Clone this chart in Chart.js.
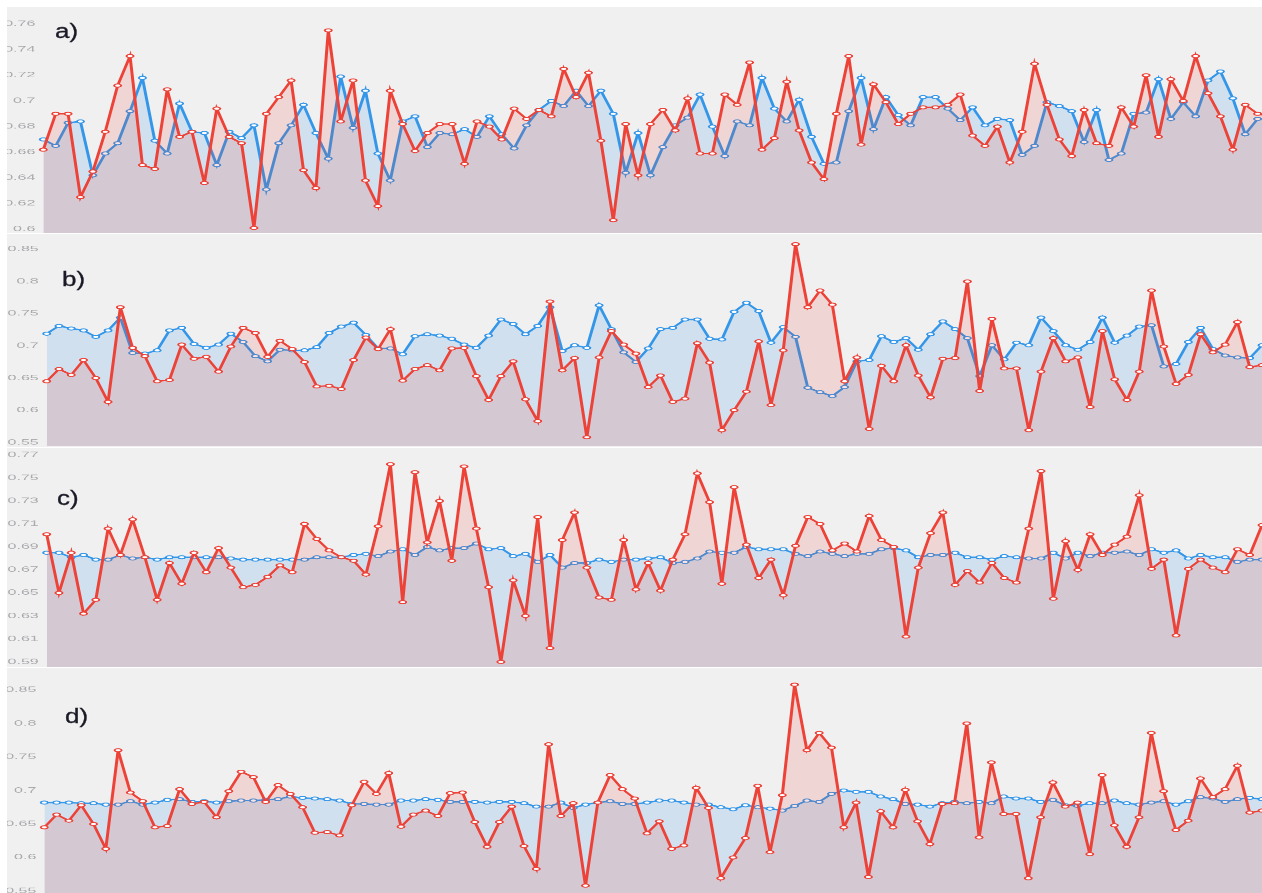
<!DOCTYPE html>
<html>
<head>
<meta charset="utf-8">
<script src="https://cdn.jsdelivr.net/npm/chart.js@4.4.1/dist/chart.umd.min.js"></script>
<style>
  html, body { margin: 0; padding: 0; background: #ffffff; width: 1262px; height: 893px; overflow: hidden; }
  .panel { position: absolute; left: 7px; width: 1255px; background: #f0f0f0; overflow: hidden; }
  .panel canvas { position: absolute; left: -7px; top: 0; transform-origin: 0 0; }
  .tag { position: absolute; font: 20px "Liberation Sans", Arial, sans-serif; color: #1a1a26; transform-origin: 0 0; white-space: nowrap; -webkit-text-stroke: 0.3px #1a1a26; }
</style>
</head>
<body>
<script>
// Sample index along the horizontal axis (shared by all four panels)
const steps = Array.from({ length: 100 }, (_, i) => i);

// Panel a
const redA = [0.662,0.690,0.690,0.625,0.645,0.676,0.712,0.735,0.650,0.647,
  0.709,0.672,0.676,0.636,0.694,0.672,0.667,0.601,0.690,0.703,
  0.716,0.646,0.632,0.755,0.684,0.716,0.638,0.618,0.708,0.682,
  0.661,0.675,0.682,0.682,0.651,0.684,0.680,0.670,0.694,0.686,
  0.693,0.688,0.725,0.703,0.722,0.669,0.607,0.682,0.642,0.682,
  0.693,0.677,0.702,0.659,0.659,0.705,0.697,0.730,0.662,0.671,
  0.715,0.677,0.652,0.639,0.690,0.735,0.666,0.713,0.699,0.682,
  0.690,0.695,0.695,0.697,0.705,0.673,0.665,0.680,0.652,0.676,
  0.729,0.697,0.670,0.657,0.693,0.667,0.665,0.695,0.680,0.720,
  0.672,0.717,0.700,0.735,0.706,0.688,0.662,0.697,0.690,0.688];
const blueA = [0.670,0.665,0.683,0.684,0.642,0.659,0.667,0.692,0.718,0.669,
  0.659,0.698,0.676,0.675,0.650,0.676,0.671,0.681,0.631,0.667,
  0.681,0.697,0.675,0.655,0.719,0.679,0.708,0.659,0.638,0.684,
  0.688,0.664,0.675,0.674,0.678,0.672,0.688,0.674,0.663,0.681,
  0.693,0.700,0.696,0.708,0.696,0.708,0.690,0.644,0.675,0.642,
  0.664,0.681,0.687,0.705,0.680,0.657,0.684,0.681,0.718,0.694,
  0.684,0.701,0.672,0.651,0.652,0.692,0.718,0.678,0.703,0.689,
  0.681,0.703,0.703,0.694,0.685,0.695,0.681,0.686,0.685,0.658,
  0.665,0.699,0.696,0.692,0.668,0.693,0.654,0.659,0.690,0.691,
  0.717,0.686,0.699,0.688,0.716,0.723,0.702,0.674,0.686,0.686];

// Red series shared by panels b and d
const redBD = [0.645,0.664,0.655,0.678,0.650,0.613,0.760,0.697,0.684,0.645,
  0.647,0.702,0.680,0.683,0.660,0.699,0.728,0.720,0.683,0.708,
  0.695,0.675,0.637,0.638,0.633,0.678,0.713,0.695,0.726,0.646,
  0.664,0.670,0.662,0.696,0.697,0.653,0.616,0.653,0.676,0.617,
  0.583,0.769,0.662,0.681,0.558,0.682,0.723,0.702,0.688,0.636,
  0.654,0.613,0.618,0.704,0.674,0.569,0.600,0.629,0.707,0.608,
  0.693,0.858,0.760,0.786,0.764,0.645,0.682,0.571,0.669,0.645,
  0.701,0.654,0.620,0.680,0.681,0.800,0.630,0.742,0.665,0.665,
  0.569,0.660,0.712,0.676,0.682,0.605,0.723,0.648,0.616,0.660,
  0.786,0.699,0.641,0.655,0.718,0.690,0.702,0.737,0.667,0.670];
const blueB = [0.719,0.731,0.727,0.724,0.714,0.724,0.744,0.689,0.688,0.693,
  0.724,0.728,0.703,0.697,0.702,0.719,0.706,0.684,0.676,0.694,
  0.693,0.693,0.698,0.720,0.730,0.736,0.717,0.696,0.696,0.687,
  0.715,0.718,0.716,0.711,0.702,0.697,0.716,0.741,0.734,0.718,
  0.731,0.760,0.692,0.701,0.697,0.763,0.726,0.690,0.675,0.696,
  0.726,0.728,0.741,0.741,0.711,0.710,0.753,0.767,0.754,0.705,
  0.729,0.714,0.635,0.628,0.622,0.636,0.676,0.678,0.715,0.706,
  0.712,0.694,0.718,0.738,0.726,0.712,0.653,0.701,0.679,0.705,
  0.701,0.744,0.723,0.701,0.694,0.706,0.744,0.705,0.716,0.730,
  0.732,0.668,0.672,0.706,0.728,0.695,0.685,0.682,0.681,0.701];

// Panel c
const redC = [0.701,0.650,0.685,0.632,0.644,0.706,0.683,0.714,0.681,0.644,
  0.676,0.658,0.685,0.668,0.689,0.672,0.655,0.657,0.664,0.674,
  0.668,0.710,0.697,0.687,0.681,0.678,0.666,0.708,0.762,0.642,
  0.755,0.694,0.730,0.678,0.760,0.706,0.655,0.590,0.661,0.630,
  0.716,0.602,0.696,0.720,0.672,0.646,0.644,0.696,0.653,0.676,
  0.652,0.679,0.701,0.754,0.729,0.658,0.742,0.692,0.663,0.679,
  0.648,0.691,0.716,0.710,0.687,0.693,0.686,0.717,0.696,0.690,
  0.612,0.672,0.702,0.720,0.657,0.669,0.659,0.676,0.663,0.659,
  0.706,0.756,0.645,0.695,0.670,0.701,0.683,0.692,0.699,0.735,
  0.671,0.679,0.613,0.671,0.679,0.672,0.668,0.688,0.683,0.709];
const blueC = [0.685,0.685,0.681,0.683,0.679,0.679,0.683,0.680,0.681,0.679,
  0.681,0.681,0.681,0.681,0.681,0.680,0.679,0.679,0.679,0.679,
  0.679,0.679,0.681,0.681,0.681,0.683,0.684,0.682,0.686,0.688,
  0.683,0.690,0.687,0.689,0.689,0.693,0.688,0.689,0.682,0.684,
  0.677,0.683,0.672,0.676,0.676,0.679,0.677,0.679,0.679,0.680,
  0.681,0.676,0.677,0.680,0.686,0.685,0.685,0.690,0.688,0.688,
  0.688,0.684,0.682,0.686,0.684,0.682,0.684,0.684,0.688,0.689,
  0.687,0.681,0.683,0.683,0.685,0.681,0.681,0.679,0.682,0.681,
  0.680,0.680,0.685,0.680,0.685,0.682,0.685,0.685,0.686,0.683,
  0.688,0.685,0.687,0.680,0.683,0.681,0.681,0.677,0.679,0.679];

// Panel d (red comes from redBD)
const blueD = [0.682,0.682,0.682,0.681,0.681,0.679,0.679,0.684,0.679,0.682,
  0.686,0.687,0.683,0.684,0.682,0.684,0.685,0.685,0.686,0.687,
  0.691,0.689,0.688,0.687,0.685,0.680,0.680,0.679,0.679,0.685,
  0.685,0.687,0.686,0.683,0.683,0.683,0.682,0.683,0.683,0.681,
  0.676,0.676,0.682,0.674,0.679,0.682,0.684,0.680,0.680,0.682,
  0.685,0.685,0.682,0.679,0.679,0.675,0.672,0.678,0.675,0.673,
  0.670,0.677,0.685,0.683,0.695,0.700,0.698,0.698,0.691,0.687,
  0.680,0.679,0.676,0.681,0.683,0.681,0.683,0.681,0.691,0.688,
  0.688,0.683,0.686,0.678,0.677,0.681,0.681,0.685,0.681,0.679,
  0.682,0.684,0.679,0.684,0.690,0.688,0.683,0.687,0.689,0.687];

// Y-axis tick labels
const ticksA = [0.6, 0.62, 0.64, 0.66, 0.68, 0.7, 0.72, 0.74, 0.76];
const ticksBD = [0.55, 0.6, 0.65, 0.7, 0.75, 0.8, 0.85];
const ticksC = [0.59, 0.61, 0.63, 0.65, 0.67, 0.69, 0.71, 0.73, 0.75, 0.77];

const panelTags = ['a)', 'b)', 'c)', 'd)'];

// Styling
const RED = 'rgb(236, 66, 56)';
const RED_FILL = 'rgba(236, 66, 56, 0.15)';
const BLUE = 'rgb(52, 150, 232)';
const BLUE_FILL = 'rgba(52, 150, 232, 0.17)';
const SQUASH = 0.45;   // vertical compression applied to every canvas
const FONT = '"Liberation Sans", Arial, sans-serif';

// Page geometry of each panel (px): box, plot area, axis width, canvas width
const layouts = [
  { top: 7,   bottom: 233,   areaTop: 24,  areaBottom: 233,   min: 0.5971, max: 0.76,   axisW: 43.3, width: 1270, tagX: 55, tagY: 20 },
  { top: 234, bottom: 446.5, areaTop: 234, areaBottom: 446.5, min: 0.5438, max: 0.8738, axisW: 46.7, width: 1262, tagX: 62, tagY: 268 },
  { top: 448, bottom: 667,   areaTop: 455, areaBottom: 667,   min: 0.5854, max: 0.77,   axisW: 46.7, width: 1262, tagX: 57, tagY: 487 },
  { top: 668, bottom: 893,   areaTop: 668, areaBottom: 893,   min: 0.547,  max: 0.8828, axisW: 44.3, width: 1262, tagX: 65, tagY: 705 }
];

const panelData = [
  { red: redA,  blue: blueA, ticks: ticksA },
  { red: redBD, blue: blueB, ticks: ticksBD },
  { red: redC,  blue: blueC, ticks: ticksC },
  { red: redBD, blue: blueD, ticks: ticksBD }
];

function lineSet(values, stroke, fillColor) {
  return {
    data: values,
    borderColor: stroke,
    backgroundColor: fillColor,
    fill: 'start',
    borderWidth: 3,
    tension: 0,
    pointRadius: 3.5,
    pointBorderWidth: 2,
    pointBorderColor: stroke,
    pointBackgroundColor: '#ffffff'
  };
}

layouts.forEach((L, k) => {
  const D = panelData[k];
  const box = document.createElement('div');
  box.className = 'panel';
  box.style.top = L.top + 'px';
  box.style.height = (L.bottom - L.top) + 'px';
  document.body.appendChild(box);

  const h = Math.round((L.bottom - L.top) / SQUASH);
  const canvas = document.createElement('canvas');
  canvas.width = L.width;
  canvas.height = h;
  canvas.style.width = L.width + 'px';
  canvas.style.height = h + 'px';
  canvas.style.transform = 'scaleY(' + SQUASH + ')';
  box.appendChild(canvas);

  const tag = document.createElement('div');
  tag.className = 'tag';
  tag.textContent = panelTags[k];
  tag.style.left = L.tagX + 'px';
  tag.style.top = L.tagY + 'px';
  tag.style.transform = 'scaleX(1.3)';
  document.body.appendChild(tag);

  new Chart(canvas, {
    type: 'line',
    data: {
      labels: steps,
      datasets: [lineSet(D.red, RED, RED_FILL), lineSet(D.blue, BLUE, BLUE_FILL)]
    },
    options: {
      responsive: false,
      animation: false,
      devicePixelRatio: 1,
      events: [],
      layout: {
        autoPadding: false,
        padding: {
          top: (L.areaTop - L.top) / SQUASH,
          bottom: (L.bottom - L.areaBottom) / SQUASH,
          left: 0,
          right: 0
        }
      },
      plugins: { legend: { display: false }, tooltip: { enabled: false } },
      scales: {
        x: { type: 'category', display: false, offset: false },
        y: {
          min: L.min,
          max: L.max,
          grid: { display: false, drawTicks: false },
          border: { display: false },
          afterFit: (s) => {
            // plot area is set entirely by layout padding; no room reserved for edge labels
            s.width = L.axisW;
            s.paddingTop = 0;
            s.paddingBottom = 0;
          },
          afterBuildTicks: (s) => { s.ticks = D.ticks.map(v => ({ value: v })); },
          ticks: {
            padding: 8,
            color: '#aaaaae',
            font: { family: FONT, size: 16 },
            callback: (v) => String(Number(Number(v).toFixed(2)))
          }
        }
      }
    }
  });
});
</script>
</body>
</html>
